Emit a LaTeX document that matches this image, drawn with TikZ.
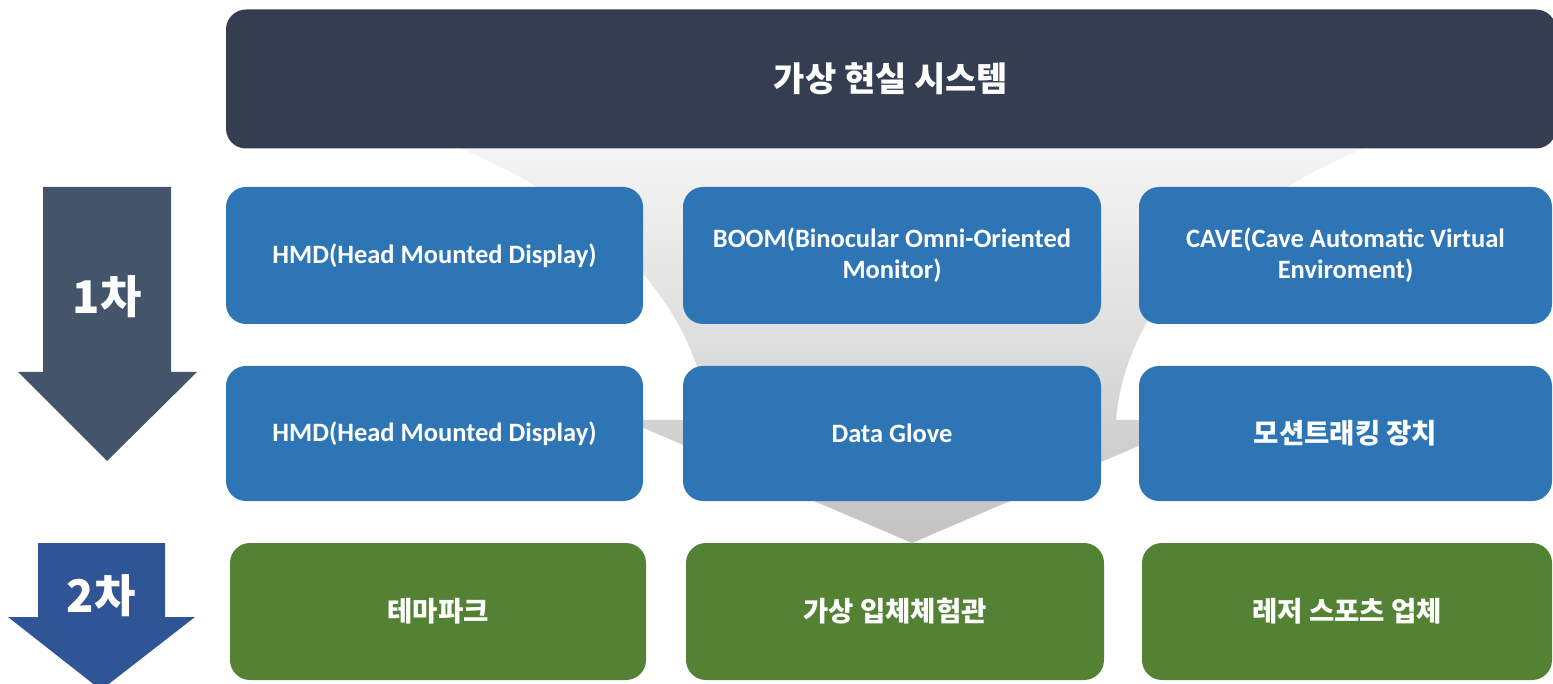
\documentclass[tikz,border=0pt]{standalone}
\usepackage{fontspec}
\setmainfont{Carlito}
\newfontfamily\kr{Noto Sans CJK KR}
\definecolor{barslate}{HTML}{343E50}
\definecolor{boxblue}{HTML}{2E75B6}
\definecolor{boxgreen}{HTML}{548235}
\definecolor{arrowslate}{HTML}{44546A}
\definecolor{arrowblue}{HTML}{2F5597}
\pgfdeclareverticalshading{funnelgrey}{100bp}{color(0bp)=(black!28); color(30bp)=(black!22);
  color(50bp)=(black!13); color(75bp)=(black!4); color(100bp)=(white)}
\begin{document}
\begin{tikzpicture}[x=1pt,y=-1pt,line join=round,
  box/.style={rounded corners=20pt,inner sep=0pt,text=white,align=center,
    font=\fontsize{26.5}{31}\selectfont\bfseries},
  krtext/.style={font=\kr\fontsize{27.5}{31}\selectfont\bfseries},
  bluebox/.style={box,fill=boxblue,minimum height=137pt},
  greenbox/.style={box,krtext,fill=boxgreen,minimum height=137pt},
  steplabel/.style={text=white,font=\kr\fontsize{45}{50}\selectfont\bfseries}]
\useasboundingbox (0,0) rectangle (1553,684);
\clip (0,0) rectangle (1553,684);
% grey funnel behind the boxes
\shade[shading=funnelgrey]
  (440,140) .. controls (620,210) and (700,320) .. (708,420)
  -- (625,420) -- (912,543) -- (1199,420) -- (1116,420)
  .. controls (1124,320) and (1204,210) .. (1384,140) -- cycle;
% step arrows on the left
\fill[arrowslate] (43,187)--(171,187)--(171,372)--(197,372)--(107,461)--(18,372)--(43,372)--cycle;
\node[steplabel] (s1) at (107,297) {1차};
\fill[arrowblue] (38,543)--(165,543)--(165,617)--(195,617)--(101,690)--(8,617)--(38,617)--cycle;
\node[steplabel] (s2) at (101,596) {2차};
% system title
\node[box,fill=barslate,minimum width=1330pt,minimum height=139pt,
  font=\kr\fontsize{34}{38}\selectfont\bfseries] (sys) at (891,79) {가상 현실 시스템};
% first stage devices
\node[bluebox,minimum width=417pt] (hmd) at (434.5,255.5) {HMD(Head Mounted Display)};
\node[bluebox,minimum width=418pt] (boom) at (892,255.5) {BOOM(Binocular Omni-Oriented\\Monitor)};
\node[bluebox,minimum width=413pt] (cave) at (1345.5,255.5) {CAVE(Cave Automatic Virtual\\Enviroment)};
\node[bluebox,minimum width=417pt,minimum height=135pt] (hmdb) at (434.5,433.5) {HMD(Head Mounted Display)};
\node[bluebox,minimum width=418pt,minimum height=135pt] (glove) at (892,433.5) {Data Glove};
\node[bluebox,krtext,minimum width=413pt,minimum height=135pt] (track) at (1345.5,433.5) {모션트래킹 장치};
% second stage uses
\node[greenbox,minimum width=416pt] (park) at (438,611.5) {테마파크};
\node[greenbox,minimum width=418pt] (hall) at (895,611.5) {가상 입체체험관};
\node[greenbox,minimum width=410pt] (laser) at (1347,611.5) {레저 스포츠 업체};
\end{tikzpicture}
\end{document}
